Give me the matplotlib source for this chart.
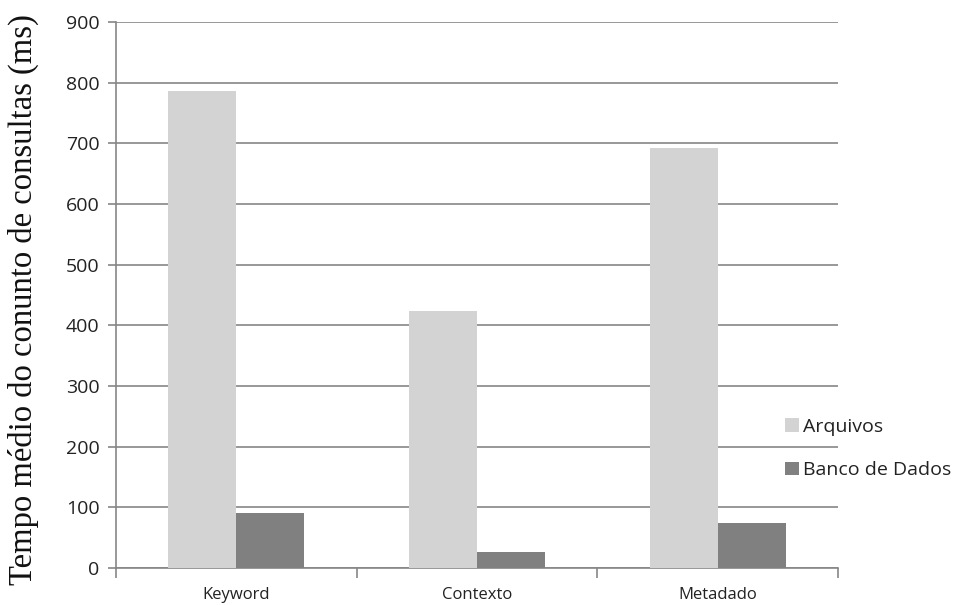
import matplotlib
matplotlib.use("Agg")
import matplotlib.pyplot as plt
import numpy as np

categories = ["Keyword", "Contexto", "Metadado"]
arquivos = [787, 423, 692]
banco = [90, 26, 74]
series_names = ["Arquivos", "Banco de Dados"]
yticks = [0, 100, 200, 300, 400, 500, 600, 700, 800, 900]

fig = plt.figure(figsize=(9.54, 6.05), dpi=100)
ax = fig.add_axes([116/954, 1-568/605, (838-116)/954, (568-22)/605])

x = np.arange(len(categories))
w = 0.283
ax.bar(x - w/2, arquivos, width=w, color="#d3d3d3", label=series_names[0], zorder=3)
ax.bar(x + w/2, banco, width=w, color="#808080", label=series_names[1], zorder=3)

ax.set_xlim(-0.5, 2.5)
ax.set_ylim(0, 900)
ax.set_yticks(yticks)
ax.set_yticklabels([str(v) for v in yticks], fontsize=14, family="Open Sans", color="#222222")
ax.yaxis.grid(True, color="#868686", linewidth=1.2, zorder=0)
ax.set_axisbelow(True)

ax.set_xticks([-0.5, 0.5, 1.5, 2.5])
ax.set_xticklabels([])
ax.set_xticks(x, minor=True)
ax.set_xticklabels(categories, minor=True, fontsize=12, family="Open Sans", color="#222222")
ax.tick_params(axis="x", which="minor", length=0, pad=14)
ax.tick_params(axis="x", which="major", length=7, color="#868686", width=1.2)
ax.tick_params(axis="y", length=6, color="#868686", width=1.2, pad=6)

for s in ["top", "right"]:
    ax.spines[s].set_visible(False)
for s in ["left", "bottom"]:
    ax.spines[s].set_color("#868686")
    ax.spines[s].set_linewidth(1.2)

fig.text(23/954, 1-300/605, "Tempo médio do conunto de consultas (ms)", family="Liberation Serif",
         fontsize=23.5, rotation=90, ha="center", va="center", color="#111111")

leg = fig.legend(loc="upper left", bbox_to_anchor=(785/954, 1-418/605), frameon=False,
                 prop={"family": "Open Sans", "size": 14}, handlelength=0.7, handleheight=0.7,
                 handletextpad=0.25, labelspacing=1.3, borderpad=0, borderaxespad=0)
for t in leg.get_texts():
    t.set_color("#222222")

fig.savefig("out.png", dpi=100)
